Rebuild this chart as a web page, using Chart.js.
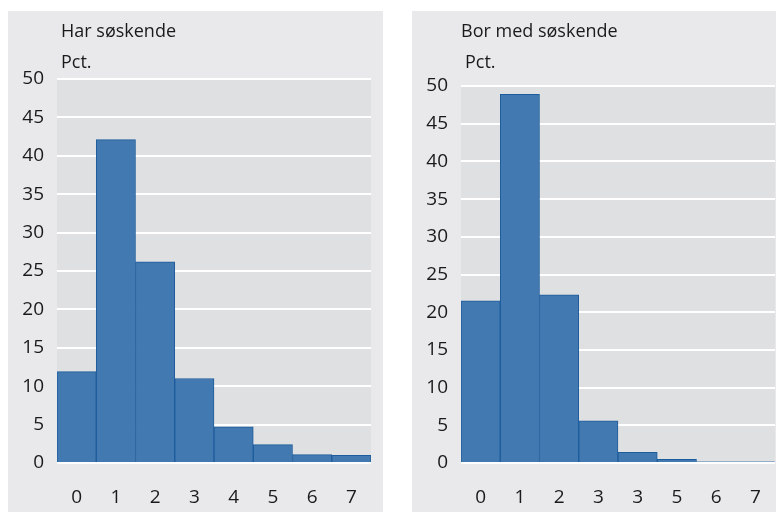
<!DOCTYPE html>
<html>
<head>
<meta charset="utf-8">
<script src="https://cdn.jsdelivr.net/npm/chart.js@4"></script>
<style>
  body { margin: 0; background: #fff; width: 776px; height: 512px; position: relative; overflow: hidden; font-family: "Open Sans", sans-serif; }
  .panel { position: absolute; top: 11px; height: 501px; background: #e9e9eb; }
  .panel canvas { position: absolute; left: 0; top: 0; }
  .txt { position: absolute; font-size: 18px; color: #1a1a1a; white-space: nowrap; }
</style>
</head>
<body>
<div class="panel" id="p1" style="left:8px;width:375px;">
  <canvas id="c1" width="375" height="501"></canvas>
  <div class="txt" style="left:53px;top:7px;">Har søskende</div>
  <div class="txt" style="left:53px;top:38px;">Pct.</div>
</div>
<div class="panel" id="p2" style="left:412px;width:364px;">
  <canvas id="c2" width="364" height="501"></canvas>
  <div class="txt" style="left:49px;top:7px;">Bor med søskende</div>
  <div class="txt" style="left:53px;top:38px;">Pct.</div>
</div>
<script>
const labelsLeft = ['0', '1', '2', '3', '4', '5', '6', '7'];
const labelsRight = ['0', '1', '2', '3', '3', '5', '6', '7'];
const harSoskende = [11.9, 42.1, 26.2, 11.0, 4.7, 2.4, 1.1, 1.0];
const borMedSoskende = [21.5, 48.9, 22.3, 5.6, 1.4, 0.5, 0.15, 0.15];

const plotBg = {
  id: 'plotBg',
  beforeDraw(chart) {
    const a = chart.chartArea, ctx = chart.ctx;
    ctx.save();
    ctx.fillStyle = '#dfe0e2';
    ctx.fillRect(a.left, a.top, a.right - a.left, a.bottom - a.top);
    ctx.restore();
  }
};

function makeChart(id, labels, values, padTop, padRight) {
  return new Chart(document.getElementById(id), {
    type: 'bar',
    data: {
      labels: labels,
      datasets: [{
        data: values,
        backgroundColor: '#4379b1',
        borderColor: '#1d5c9c',
        borderWidth: 1,
        barPercentage: 1,
        categoryPercentage: 1
      }]
    },
    options: {
      responsive: false,
      animation: false,
      layout: { padding: { top: padTop, right: padRight, left: 0, bottom: 0 } },
      plugins: { legend: { display: false }, tooltip: { enabled: false } },
      scales: {
        x: {
          grid: { display: false, drawTicks: false },
          border: { display: false },
          ticks: { color: '#1a1a1a', font: { family: 'Open Sans', size: 19 }, padding: 23 },
          afterFit(s) { s.height = 49; s.paddingLeft = 0; s.paddingRight = 0; }
        },
        y: {
          min: 0, max: 50,
          grid: { color: '#ffffff', lineWidth: 2, drawTicks: false },
          border: { display: false },
          ticks: { stepSize: 5, color: '#1a1a1a', font: { family: 'Open Sans', size: 19 }, padding: 13 },
          afterFit(s) { s.width = 49; s.paddingTop = 0; s.paddingBottom = 0; }
        }
      }
    },
    plugins: [plotBg]
  });
}

makeChart('c1', labelsLeft, harSoskende, 68, 12);
makeChart('c2', labelsRight, borMedSoskende, 75, 1);
</script>
</body>
</html>
